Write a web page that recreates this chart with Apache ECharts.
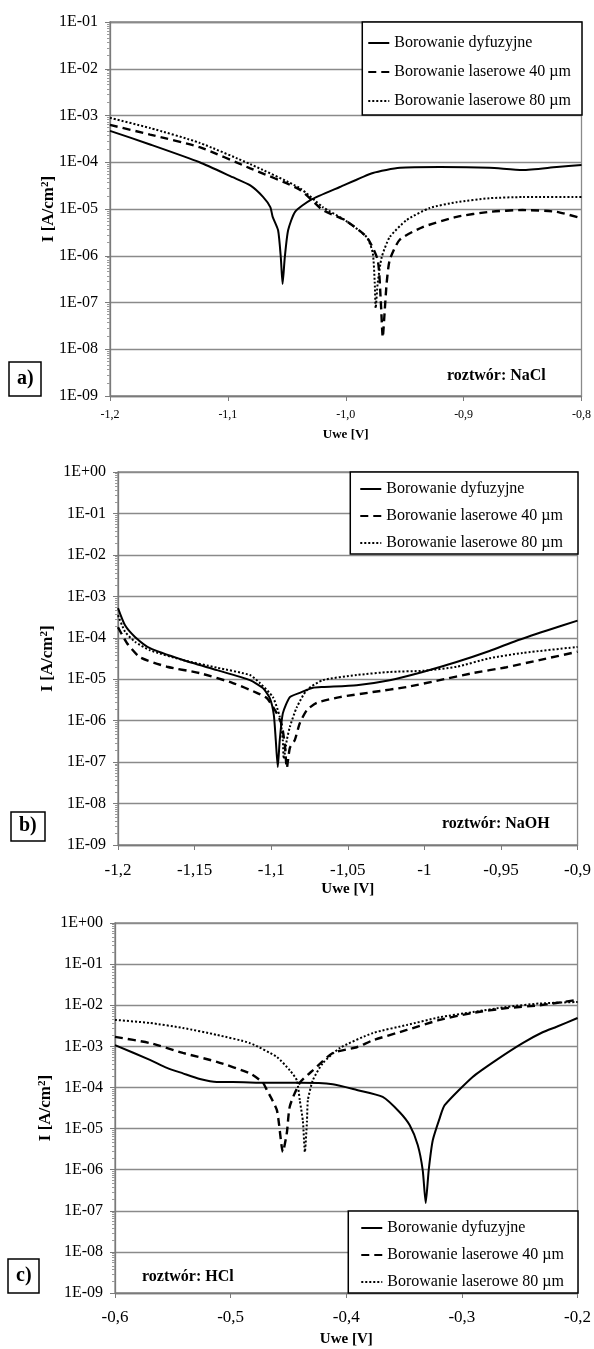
<!DOCTYPE html>
<html>
<head>
<meta charset="utf-8">
<script src="https://cdn.jsdelivr.net/npm/echarts@6.0.0/dist/echarts.min.js"></script>
<style>
html, body { margin: 0; padding: 0; background: #fff; }
#chart { width: 594px; height: 1349px; }
</style>
</head>
<body>
<div id="chart"></div>
<script>
var FONT = 'Liberation Serif';

var seriesNames = ['Borowanie dyfuzyjne', 'Borowanie laserowe 40 µm', 'Borowanie laserowe 80 µm'];
var panelLabels = ['a)', 'b)', 'c)'];
var solutionLabels = ['roztwór: NaCl', 'roztwór: NaOH', 'roztwór: HCl'];
// [min, max, interval] of Uwe [V]
var xRanges = [[-1.2, -0.8, 0.1], [-1.2, -0.9, 0.05], [-0.6, -0.2, 0.1]];
// decades of I [A/cm2]
var yRanges = [[-9, -1], [-9, 0], [-9, 0]];

// a) NaCl   [Uwe, I]
var naclDyf = [
  [-1.2, 4.7e-4], [-1.166, 2.4e-4], [-1.124, 1.0e-4], [-1.096, 4.8e-5], [-1.081, 3.2e-5],
  [-1.070, 1.8e-5], [-1.064, 1.1e-5], [-1.062, 6.8e-6], [-1.0574, 3.5e-6], [-1.0551, 9.3e-7],
  [-1.0536, 2.5e-7], [-1.0517, 9.3e-7], [-1.0489, 3.5e-6], [-1.043, 8.7e-6], [-1.030, 1.55e-5],
  [-1.005, 2.95e-5], [-0.977, 5.9e-5], [-0.954, 7.6e-5], [-0.920, 7.9e-5], [-0.878, 7.6e-5],
  [-0.850, 6.8e-5], [-0.821, 7.9e-5], [-0.8, 8.7e-5]
];
var naclL40 = [
  [-1.2, 6.3e-4], [-1.166, 3.9e-4], [-1.124, 2.1e-4], [-1.081, 7.4e-5], [-1.039, 2.6e-5],
  [-1.0195, 9.5e-6], [-1.0008, 5.8e-6], [-0.9822, 2.5e-6], [-0.9729, 8.1e-7], [-0.9703, 1.1e-7],
  [-0.9686, 1.8e-8], [-0.9669, 6.9e-8], [-0.9653, 2.6e-7], [-0.9627, 8.1e-7], [-0.9542, 2.2e-6],
  [-0.9347, 4.1e-6], [-0.9059, 6.8e-6], [-0.878, 8.7e-6], [-0.85, 9.5e-6], [-0.8212, 8.7e-6],
  [-0.8, 6.3e-6]
];
var naclL80 = [
  [-1.2, 8.9e-4], [-1.166, 5.4e-4], [-1.124, 2.6e-4], [-1.081, 9.1e-5], [-1.039, 2.8e-5],
  [-1.0195, 1.1e-5], [-1.0008, 5.8e-6], [-0.9822, 2.5e-6], [-0.9771, 1.15e-6], [-0.9754, 2.6e-7],
  [-0.9746, 7.6e-8], [-0.9729, 2.6e-7], [-0.9695, 9.3e-7], [-0.9627, 2.5e-6], [-0.9483, 5.8e-6],
  [-0.9288, 1.05e-5], [-0.9059, 1.4e-5], [-0.878, 1.7e-5], [-0.85, 1.8e-5], [-0.8, 1.8e-5]
];

// b) NaOH
var naohDyf = [
  [-1.2, 5.2e-4], [-1.1954, 2.0e-4], [-1.1889, 1.05e-4], [-1.1791, 5.6e-5], [-1.1576, 2.9e-5],
  [-1.1354, 1.66e-5], [-1.1139, 9.5e-6], [-1.1054, 6.1e-6], [-1.1009, 3.5e-6], [-1.0983, 1.4e-6],
  [-1.097, 3.4e-7], [-1.0957, 7.6e-8], [-1.0944, 3.4e-7], [-1.0924, 1.5e-6], [-1.0878, 3.7e-6],
  [-1.0813, 4.7e-6], [-1.0728, 6.2e-6], [-1.0663, 6.5e-6], [-1.0442, 7.2e-6], [-1.0226, 9.5e-6],
  [-1.0011, 1.5e-5], [-0.979, 2.6e-5], [-0.9575, 4.8e-5], [-0.9399, 8.5e-5], [-0.92, 1.5e-4],
  [-0.9, 2.6e-4]
];
var naohL40 = [
  [-1.2, 1.8e-4], [-1.1941, 7.4e-5], [-1.1857, 3.4e-5], [-1.168, 2.0e-5], [-1.1465, 1.4e-5],
  [-1.125, 8.1e-6], [-1.1094, 4.7e-6], [-1.1028, 3.5e-6], [-1.0963, 1.5e-6], [-1.0931, 7.9e-7],
  [-1.0911, 2.6e-7], [-1.0898, 7.2e-8], [-1.0878, 2.2e-7], [-1.0846, 3.4e-7], [-1.0813, 8.7e-7],
  [-1.0767, 1.8e-6], [-1.0702, 2.7e-6], [-1.0552, 3.7e-6], [-1.0337, 4.9e-6], [-1.0115, 6.5e-6],
  [-0.99, 9.5e-6], [-0.9685, 1.4e-5], [-0.9464, 1.95e-5], [-0.9249, 2.9e-5], [-0.9, 4.6e-5]
];
var naohL80 = [
  [-1.2, 3.5e-4], [-1.1954, 1.4e-4], [-1.1889, 8.0e-5], [-1.1791, 5.0e-5], [-1.1576, 2.9e-5],
  [-1.1354, 1.9e-5], [-1.1139, 1.26e-5], [-1.1074, 8.1e-6], [-1.0989, 3.7e-6], [-1.0944, 1.23e-6],
  [-1.0924, 3.4e-7], [-1.0918, 1.2e-7], [-1.0898, 3.4e-7], [-1.0878, 7.1e-7], [-1.0833, 2.1e-6],
  [-1.0767, 5.5e-6], [-1.0663, 9.5e-6], [-1.0442, 1.26e-5], [-1.0226, 1.5e-5], [-1.0011, 1.6e-5],
  [-0.979, 2.0e-5], [-0.9575, 3.2e-5], [-0.936, 4.3e-5], [-0.9, 6.0e-5]
];

// c) HCl
var hclDyf = [
  [-0.6, 1.07e-3], [-0.5698, 4.7e-4], [-0.5551, 3.0e-4], [-0.5413, 2.2e-4], [-0.5266, 1.6e-4],
  [-0.5119, 1.35e-4], [-0.498, 1.35e-4], [-0.4687, 1.3e-4], [-0.4402, 1.3e-4], [-0.4117, 1.2e-4],
  [-0.3909, 8.7e-5], [-0.3685, 5.9e-5], [-0.3538, 2.5e-5], [-0.3451, 1.2e-5], [-0.3382, 4.0e-6],
  [-0.3339, 9.8e-7], [-0.3313, 1.55e-7], [-0.3287, 9.8e-7], [-0.3252, 5.2e-6], [-0.3192, 1.8e-5],
  [-0.3149, 3.7e-5], [-0.2907, 1.8e-4], [-0.27, 4.7e-4], [-0.2475, 1.2e-3], [-0.2302, 2.2e-3],
  [-0.2181, 3.0e-3], [-0.2, 4.9e-3]
];
var hclL40 = [
  [-0.6, 1.7e-3], [-0.5698, 1.2e-3], [-0.5413, 6.9e-4], [-0.5119, 4.2e-4], [-0.4834, 2.2e-4],
  [-0.4721, 1.3e-4], [-0.4687, 8.7e-5], [-0.46, 2.8e-5], [-0.4548, 2.7e-6], [-0.4514, 7.8e-6],
  [-0.4488, 3.5e-5], [-0.4402, 1.3e-4], [-0.4289, 2.6e-4], [-0.4117, 6.9e-4], [-0.3909, 9.5e-4],
  [-0.3771, 1.4e-3], [-0.3477, 2.5e-3], [-0.3192, 4.4e-3], [-0.2907, 6.5e-3], [-0.2613, 8.5e-3],
  [-0.2328, 1.0e-2], [-0.2, 1.35e-2]
];
var hclL80 = [
  [-0.6, 4.4e-3], [-0.5698, 3.7e-3], [-0.5413, 2.8e-3], [-0.5119, 1.9e-3], [-0.4834, 1.2e-3],
  [-0.46, 5.5e-4], [-0.4488, 2.6e-4], [-0.4428, 1.5e-4], [-0.4402, 4.9e-5], [-0.4375, 1.5e-5],
  [-0.4358, 2.7e-6], [-0.434, 1.5e-5], [-0.4332, 4.9e-5], [-0.4289, 1.5e-4], [-0.4203, 3.9e-4],
  [-0.4056, 9.1e-4], [-0.3771, 2.1e-3], [-0.3477, 3.3e-3], [-0.3192, 5.1e-3], [-0.2907, 6.8e-3],
  [-0.2613, 9.1e-3], [-0.2328, 1.1e-2], [-0.2, 1.2e-2]
];

var panelData = [
  [naclDyf, naclL40, naclL80],
  [naohDyf, naohL40, naohL80],
  [hclDyf, hclL40, hclL80]
];

// layout of the three panels
var grids = [
  {left: 110, top: 22, width: 472, height: 374},
  {left: 118, top: 472, width: 460, height: 373},
  {left: 115, top: 923, width: 463, height: 370}
];
var xLabelSize = [12, 17, 17];
var xLabelMargin = [13, 17, 16];
var xNameSize = [13, 15, 15];
var xNameGap = [32, 37, 39];
var yNameGap = [52, 61, 60];
var legendPos = [
  {right: 12, top: 22, itemGap: 11, padding: [12, 11, 5, 5]},
  {right: 16, top: 472, itemGap: 9, padding: [8, 15, 2, 9]},
  {right: 16, top: 1211, itemGap: 9, padding: [8, 14, 2, 12]}
];
var panelBox = [
  {left: 9, top: 362, padding: [7, 8]},
  {left: 11, top: 812, padding: [4, 8, 5, 8]},
  {left: 8, top: 1259, padding: [7, 8]}
];
var solutionPos = [{left: 447, top: 368}, {left: 442, top: 816}, {left: 142, top: 1269}];

var lineStyles = [
  {color: '#000', width: 2, type: 'solid'},
  {color: '#000', width: 2.4, type: [8, 5]},
  {color: '#000', width: 2, type: [2, 2]}
];

function expLabel(v) {
  var e = Math.round(Math.log10(v));
  var a = Math.abs(e);
  return '1E' + (e < 0 ? '-' : '+') + (a < 10 ? '0' : '') + a;
}

var option = {
  animation: false,
  backgroundColor: '#fff',
  textStyle: {fontFamily: FONT, color: '#000'},
  title: [],
  legend: [],
  grid: [],
  xAxis: [],
  yAxis: [],
  series: []
};

grids.forEach(function (g, p) {
  option.grid.push({
    left: g.left, top: g.top, width: g.width, height: g.height,
    show: true, borderColor: '#8a8a8a', borderWidth: 1.3, backgroundColor: '#fff'
  });
  var xr = xRanges[p];
  option.xAxis.push({
    gridIndex: p, type: 'value', min: xr[0], max: xr[1], interval: xr[2],
    name: 'Uwe [V]', nameLocation: 'middle', nameGap: xNameGap[p], nameMoveOverlap: false,
    nameTextStyle: {fontFamily: FONT, fontWeight: 'bold', fontSize: xNameSize[p], color: '#000'},
    axisLine: {lineStyle: {color: '#7a7a7a', width: 1.3}},
    axisTick: {show: true, length: 5, lineStyle: {color: '#7a7a7a'}},
    splitLine: {show: false},
    axisLabel: {
      fontFamily: FONT, fontSize: xLabelSize[p], color: '#000', margin: xLabelMargin[p],
      formatter: function (v) {
        var s = p === 1 ? String(+v.toFixed(2)) : v.toFixed(1);
        return s.replace('.', ',');
      }
    }
  });
  var yr = yRanges[p];
  option.yAxis.push({
    gridIndex: p, type: 'log', logBase: 10,
    min: Math.pow(10, yr[0]), max: Math.pow(10, yr[1]), interval: 1,
    name: '{m|I [A/cm}{s|2}{m|]}', nameLocation: 'middle', nameGap: yNameGap[p], nameMoveOverlap: false,
    nameTextStyle: {
      rich: {
        m: {fontFamily: FONT, fontWeight: 'bold', fontSize: 17, color: '#000', lineHeight: 18},
        s: {fontFamily: FONT, fontWeight: 'bold', fontSize: 11, color: '#000', verticalAlign: 'top', lineHeight: 18}
      }
    },
    axisLine: {show: true, lineStyle: {color: '#7a7a7a', width: 1.3}},
    axisTick: {show: true, length: 5, lineStyle: {color: '#7a7a7a'}},
    minorTick: {show: true, splitNumber: 10, length: 3, lineStyle: {color: '#9a9a9a'}},
    splitLine: {show: true, lineStyle: {color: '#8a8a8a', width: 1.3}},
    axisLabel: {fontFamily: FONT, fontSize: 16, color: '#000', margin: 12, formatter: expLabel}
  });
  panelData[p].forEach(function (d, s) {
    option.series.push({
      name: seriesNames[s], type: 'line', xAxisIndex: p, yAxisIndex: p,
      data: d, symbol: 'none', showSymbol: false, smooth: 0.2,
      lineStyle: lineStyles[s], itemStyle: {color: '#000'}, z: 3
    });
  });
  var lp = legendPos[p];
  option.legend.push({
    orient: 'vertical', right: lp.right, top: lp.top, data: seriesNames,
    itemWidth: 21, itemHeight: 18, itemGap: lp.itemGap, padding: lp.padding,
    borderColor: '#000', borderWidth: 1.5, backgroundColor: '#fff',
    itemStyle: {opacity: 0},
    textStyle: {fontFamily: FONT, fontSize: 16, color: '#000', lineHeight: 18},
    selectedMode: false, z: 10
  });
  var pb = panelBox[p];
  option.title.push({
    text: panelLabels[p], left: pb.left, top: pb.top, padding: pb.padding,
    borderColor: '#000', borderWidth: 1.5, backgroundColor: '#fff',
    textStyle: {fontFamily: FONT, fontWeight: 'bold', fontSize: 20, color: '#000', lineHeight: 20}
  });
  var sp = solutionPos[p];
  option.title.push({
    text: solutionLabels[p], left: sp.left, top: sp.top, padding: 0, z: 11,
    textStyle: {fontFamily: FONT, fontWeight: 'bold', fontSize: 16, color: '#000'}
  });
});

var chart = echarts.init(document.getElementById('chart'), null, {renderer: 'canvas'});
chart.setOption(option);
</script>
</body>
</html>
